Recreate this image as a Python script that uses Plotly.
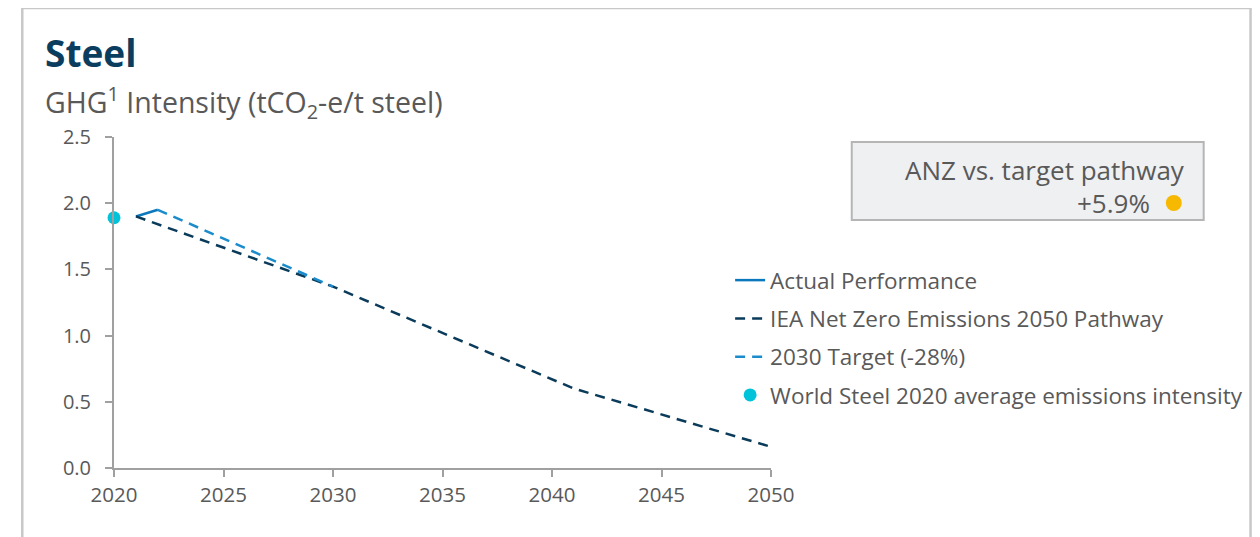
import plotly.graph_objects as go

# ---- data ----
actual_years = [2021, 2022]
actual_vals = [1.90, 1.95]

iea_years = [2021, 2030, 2041, 2050]
iea_vals = [1.90, 1.37, 0.60, 0.16]

target_years = [2022, 2030]
target_vals = [1.95, 1.37]

world_years = [2020]
world_vals = [1.89]

x_ticks = [2020, 2025, 2030, 2035, 2040, 2045, 2050]
y_ticks = [0.0, 0.5, 1.0, 1.5, 2.0, 2.5]

names = ["Actual Performance", "IEA Net Zero Emissions 2050 Pathway",
         "2030 Target (-28%)", "World Steel 2020 average emissions intensity"]

FONT = "Open Sans"
GREY = "#595959"

fig = go.Figure()
fig.add_trace(go.Scatter(x=actual_years, y=actual_vals, mode="lines", name=names[0],
                         legendgroup="a", line=dict(color="#0b78bd", width=2.5),
                         cliponaxis=False))
fig.add_trace(go.Scatter(x=iea_years, y=iea_vals, mode="lines", name=names[1],
                         legendgroup="b", line=dict(color="#0a3b5a", width=2.5, dash="10px,7px"),
                         cliponaxis=False))
fig.add_trace(go.Scatter(x=target_years, y=target_vals, mode="lines", name=names[2],
                         legendgroup="c", line=dict(color="#1a8ccc", width=2.5, dash="10px,7px"),
                         cliponaxis=False))
fig.add_trace(go.Scatter(x=world_years, y=world_vals, mode="markers", name=names[3],
                         legendgroup="d", marker=dict(color="#00c3d9", size=13),
                         cliponaxis=False))

# page body has an 8px margin; work in reference (window) pixel coords
OFF = 8
W, H = 1260 - OFF, 537 - OFF
PX0, PX1 = 114, 773   # plot area in window coords
PY0, PY1 = 137, 468
L = PX0 - OFF
T = PY0 - OFF
R = W - L - (PX1 - PX0)
B = H - T - (PY1 - PY0)
PW, PH = PX1 - PX0, PY1 - PY0


def px(x):
    return (x - PX0) / PW


def py(y):
    return (PY1 - y) / PH


fig.update_layout(
    width=W, height=H,
    margin=dict(l=L, r=R, t=T, b=B, pad=0),
    paper_bgcolor="white", plot_bgcolor="white",
    font=dict(family=FONT, color=GREY),
    showlegend=True,
    legend=dict(x=px(732), y=py(259), xanchor="left", yanchor="top",
                font=dict(size=22.5, color=GREY, family=FONT),
                tracegroupgap=6, traceorder="grouped",
                bgcolor="rgba(0,0,0,0)", itemwidth=30),
    xaxis=dict(range=[2020, 2050], tickvals=x_ticks, ticktext=[str(v) for v in x_ticks],
               showgrid=False, zeroline=False, showline=True, linecolor="#a0a0a0", linewidth=2,
               ticks="outside", ticklen=7, tickwidth=2, tickcolor="#a0a0a0",
               tickfont=dict(size=20.5, color=GREY, family=FONT)),
    yaxis=dict(range=[0, 2.5], tickvals=y_ticks, ticktext=[f"{v:.1f}" for v in y_ticks],
               showgrid=False, zeroline=False, showline=True, linecolor="#a0a0a0", linewidth=2,
               ticks="outside", ticklen=7, tickwidth=2, tickcolor="#a0a0a0",
               ticklabelstandoff=10,
               tickfont=dict(size=20, color=GREY, family=FONT)),
)

# outer frame (open at bottom, extends below the image)
fig.add_shape(type="path", xref="paper", yref="paper",
              path=f"M {px(22)} {py(600)} L {px(22)} {py(8)} L {px(1254)} {py(8)} L {px(1254)} {py(600)}",
              line=dict(color="#c8c8c8", width=2.5))

# callout box
fig.add_shape(type="rect", xref="paper", yref="paper",
              x0=px(854), x1=px(1207), y0=py(220), y1=py(142),
              fillcolor="#eef0f2", line=dict(color="#b5b5b5", width=2))
fig.add_shape(type="circle", xref="paper", yref="paper",
              x0=px(1169), x1=px(1185), y0=py(211), y1=py(195),
              fillcolor="#f7b800", line=dict(width=0))
fig.add_annotation(xref="paper", yref="paper", x=px(1190), y=py(170), xanchor="right", yanchor="middle",
                   text="ANZ vs. target pathway", showarrow=False,
                   font=dict(size=26, color=GREY, family=FONT))
fig.add_annotation(xref="paper", yref="paper", x=px(1155), y=py(203), xanchor="right", yanchor="middle",
                   text="+5.9%", showarrow=False,
                   font=dict(size=26, color=GREY, family=FONT))

# titles
fig.add_annotation(xref="paper", yref="paper", x=px(43), y=py(53), xanchor="left", yanchor="middle",
                   text="<b>Steel</b>", showarrow=False,
                   font=dict(size=37, color="#0b3d5e", family=FONT))
fig.add_annotation(xref="paper", yref="paper", x=px(43), y=py(102), xanchor="left", yanchor="middle",
                   text="GHG<sup>1</sup> Intensity (tCO<sub>2</sub>-e/t steel)", showarrow=False,
                   font=dict(size=28.5, color=GREY, family=FONT))

fig.write_html("out.html")
